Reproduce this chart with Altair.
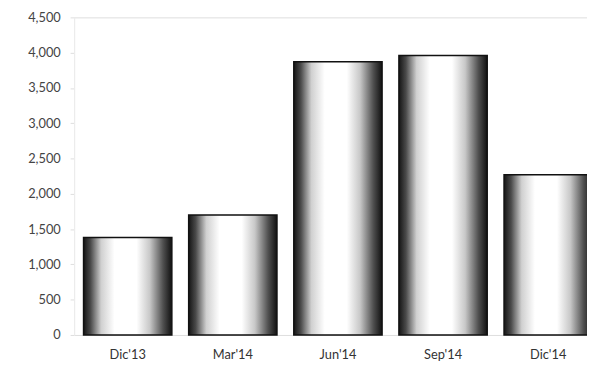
import altair as alt
import pandas as pd

periods = ["Dic'13", "Mar'14", "Jun'14", "Sep'14", "Dic'14"]
values = [1380, 1700, 3870, 3960, 2270]

df = pd.DataFrame({"period": periods, "value": values})

grad = alt.Gradient(
    gradient="linear",
    x1=0, x2=1, y1=0, y2=0,
    stops=[
        alt.GradientStop(color="#151515", offset=0),
        alt.GradientStop(color="#4a4a4a", offset=0.08),
        alt.GradientStop(color="#d0d0d0", offset=0.2),
        alt.GradientStop(color="#ffffff", offset=0.35),
        alt.GradientStop(color="#ffffff", offset=0.6),
        alt.GradientStop(color="#c8c8c8", offset=0.75),
        alt.GradientStop(color="#505050", offset=0.9),
        alt.GradientStop(color="#111111", offset=1),
    ],
)

chart = (
    alt.Chart(df)
    .mark_bar(color=grad, stroke="#111111", strokeWidth=1.5)
    .encode(
        x=alt.X(
            "period:N",
            sort=periods,
            title=None,
            scale=alt.Scale(range=[0, 535], paddingInner=0.16, paddingOuter=0.09),
            axis=alt.Axis(
                labelAngle=0,
                domain=False,
                ticks=False,
                labelPadding=14,
                labelFont="Lato",
                labelFontSize=13,
                labelColor="#333333",
            ),
        ),
        y=alt.Y(
            "value:Q",
            title=None,
            scale=alt.Scale(domain=[0, 4500]),
            axis=alt.Axis(
                values=list(range(0, 4501, 500)),
                format=",d",
                grid=False,
                domain=True,
                domainColor="#eeeeee",
                tickColor="#dddddd",
                tickSize=4,
                labelPadding=10,
                labelFont="Lato",
                labelFontSize=13,
                labelColor="#444444",
            ),
        ),
    )
    .properties(
        width=520,
        height=322,
        autosize=alt.AutoSizeParams(type="none"),
        padding={"left": 67, "top": 7, "right": 0, "bottom": 32},
    )
    .configure_view(stroke=None)
    .configure(background="white")
)

chart.save("out.html", embed_options={"renderer": "svg", "actions": False})
